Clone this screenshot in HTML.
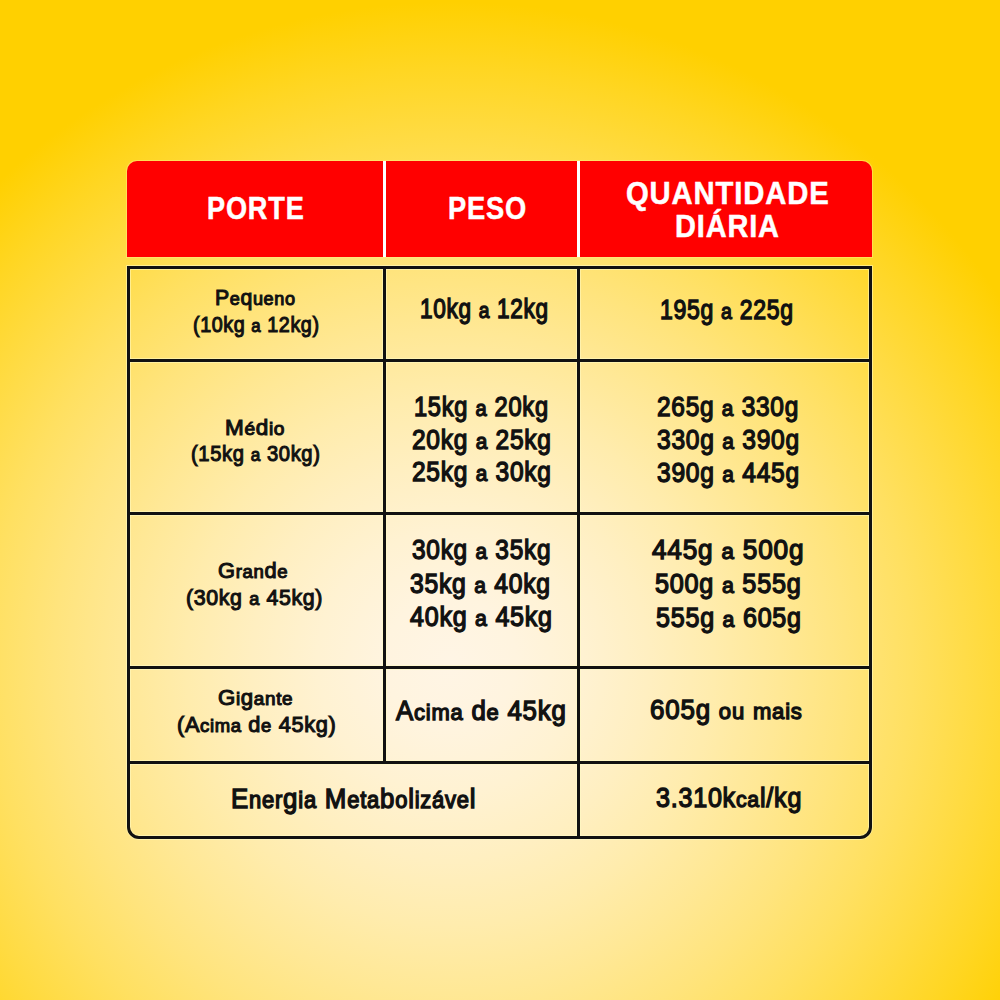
<!DOCTYPE html>
<html><head><meta charset="utf-8"><style>
html,body{margin:0;padding:0;}
body{width:1000px;height:1000px;position:relative;overflow:hidden;background:radial-gradient(circle 660px at 450px 662px, #fff5e5 0%, #fff4df 10%, #fff2d2 20%, #ffefc1 30%, #ffecad 40%, #ffe896 50%, #ffe47d 60%, #ffe061 70%, #ffdb42 80%, #ffd622 90%, #ffd000 100%);font-family:"Liberation Sans",sans-serif;}
.t{position:absolute;white-space:nowrap;line-height:1;font-weight:normal;transform-origin:0 0;-webkit-text-stroke:0.05em currentColor;}
.t.h{font-weight:bold;-webkit-text-stroke:0.5px currentColor;}
.t i{font-style:normal;}
.t i.l{font-size:0.85em;-webkit-text-stroke:0.0588em currentColor;}
.t i.a{font-size:1.0em;-webkit-text-stroke:0.0500em currentColor;}
.t i.d{font-size:1.0em;-webkit-text-stroke:0.0500em currentColor;}
.r{position:absolute;}
.hv{background:linear-gradient(90deg,rgba(255,251,196,.55) 0 1px,transparent 1px 4px,rgba(255,251,196,.55) 4px);}
.hh{background:linear-gradient(180deg,rgba(255,251,196,.55) 0 1px,transparent 1px 4px,rgba(255,251,196,.55) 4px);}
</style></head><body>
<div class="r" style="left:127px;top:161px;width:745px;height:96px;background:#ff0000;border-radius:10px 10px 0 0;box-shadow:0 0 0 1px rgba(255,236,140,.45);"></div>
<div class="r" style="left:383px;top:161px;width:3px;height:96px;background:#ffffff;"></div>
<div class="r" style="left:577px;top:161px;width:3px;height:96px;background:#ffffff;"></div>
<div class="r" style="left:126px;top:265px;width:747px;height:575px;box-sizing:border-box;border:1px solid rgba(255,251,196,.55);border-radius:0 0 13px 13px;"></div>
<div class="r" style="left:130px;top:269px;width:739px;height:567px;box-sizing:border-box;border:1px solid rgba(255,251,196,.55);border-radius:0 0 9px 9px;"></div>
<div class="r hv" style="left:382px;top:269px;width:5px;height:492px;"></div>
<div class="r hv" style="left:576px;top:269px;width:5px;height:567px;"></div>
<div class="r hh" style="left:130px;top:358px;width:739px;height:5px;"></div>
<div class="r hh" style="left:130px;top:511px;width:739px;height:5px;"></div>
<div class="r hh" style="left:130px;top:665px;width:739px;height:5px;"></div>
<div class="r hh" style="left:130px;top:760px;width:739px;height:5px;"></div>
<div class="r" style="left:127px;top:266px;width:745px;height:573px;box-sizing:border-box;border:3px solid #111;border-radius:0 0 12px 12px;"></div>
<div class="r" style="left:383px;top:269px;width:3px;height:492px;background:#111;"></div>
<div class="r" style="left:577px;top:269px;width:3px;height:567px;background:#111;"></div>
<div class="r" style="left:130px;top:359px;width:739px;height:3px;background:#111;"></div>
<div class="r" style="left:130px;top:512px;width:739px;height:3px;background:#111;"></div>
<div class="r" style="left:130px;top:666px;width:739px;height:3px;background:#111;"></div>
<div class="r" style="left:130px;top:761px;width:739px;height:3px;background:#111;"></div>

<div class="t h" style="left:207.22px;top:191.68px;font-size:32.27px;letter-spacing:0.03em;color:#ffffff;transform:scaleX(0.8411)">PORTE</div>
<div class="t h" style="left:448.30px;top:191.68px;font-size:32.27px;letter-spacing:0.03em;color:#ffffff;transform:scaleX(0.8449)">PESO</div>
<div class="t h" style="left:626.10px;top:176.75px;font-size:31.98px;letter-spacing:0.03em;color:#ffffff;transform:scaleX(0.9137)">QUANTIDADE</div>
<div class="t h" style="left:675.18px;top:209.93px;font-size:31.98px;letter-spacing:0.03em;color:#ffffff;transform:scaleX(0.9048)">DIÁRIA</div>
<div class="t" style="left:215.03px;top:286.72px;font-size:21.80px;letter-spacing:0.03em;color:#111111;transform:scaleX(0.9745)">P<i class="l">e</i><i class="d">q</i><i class="l">ueno</i></div>
<div class="t" style="left:193.05px;top:313.78px;font-size:21.80px;letter-spacing:0.03em;color:#111111;transform:scaleX(0.9039)">(10<i class="a">k</i><i class="d">g</i> <i class="l">a</i> 12<i class="a">k</i><i class="d">g</i>)</div>
<div class="t" style="left:224.89px;top:416.72px;font-size:21.80px;letter-spacing:0.03em;color:#111111;transform:scaleX(1.0324)">M<i class="l">é</i><i class="a">d</i><i class="l">io</i></div>
<div class="t" style="left:191.08px;top:442.60px;font-size:21.80px;letter-spacing:0.03em;color:#111111;transform:scaleX(0.9249)">(15<i class="a">k</i><i class="d">g</i> <i class="l">a</i> 30<i class="a">k</i><i class="d">g</i>)</div>
<div class="t" style="left:218.40px;top:560.47px;font-size:21.80px;letter-spacing:0.03em;color:#111111;transform:scaleX(1.0011)">G<i class="l">ran</i><i class="a">d</i><i class="l">e</i></div>
<div class="t" style="left:186.02px;top:586.84px;font-size:21.80px;letter-spacing:0.03em;color:#111111;transform:scaleX(0.9789)">(30<i class="a">k</i><i class="d">g</i> <i class="l">a</i> 45<i class="a">k</i><i class="d">g</i>)</div>
<div class="t" style="left:218.03px;top:687.22px;font-size:21.80px;letter-spacing:0.03em;color:#111111;transform:scaleX(1.0194)">G<i class="l">i</i><i class="d">g</i><i class="l">ante</i></div>
<div class="t" style="left:177.03px;top:713.60px;font-size:21.80px;letter-spacing:0.03em;color:#111111;transform:scaleX(0.9967)">(A<i class="l">cima</i> <i class="a">d</i><i class="l">e</i> 45<i class="a">k</i><i class="d">g</i>)</div>
<div class="t" style="left:420.19px;top:296.35px;font-size:26.89px;letter-spacing:0.03em;color:#111111;transform:scaleX(0.8414)">10<i class="a">k</i><i class="d">g</i> <i class="l">a</i> 12<i class="a">k</i><i class="d">g</i></div>
<div class="t" style="left:660.21px;top:296.91px;font-size:26.89px;letter-spacing:0.03em;color:#111111;transform:scaleX(0.8571)">195<i class="d">g</i> <i class="l">a</i> 225<i class="d">g</i></div>
<div class="t" style="left:413.68px;top:394.35px;font-size:26.89px;letter-spacing:0.03em;color:#111111;transform:scaleX(0.8801)">15<i class="a">k</i><i class="d">g</i> <i class="l">a</i> 20<i class="a">k</i><i class="d">g</i></div>
<div class="t" style="left:411.59px;top:426.63px;font-size:26.89px;letter-spacing:0.03em;color:#111111;transform:scaleX(0.9121)">20<i class="a">k</i><i class="d">g</i> <i class="l">a</i> 25<i class="a">k</i><i class="d">g</i></div>
<div class="t" style="left:411.59px;top:458.91px;font-size:26.89px;letter-spacing:0.03em;color:#111111;transform:scaleX(0.9121)">25<i class="a">k</i><i class="d">g</i> <i class="l">a</i> 30<i class="a">k</i><i class="d">g</i></div>
<div class="t" style="left:656.57px;top:394.35px;font-size:26.89px;letter-spacing:0.03em;color:#111111;transform:scaleX(0.9097)">265<i class="d">g</i> <i class="l">a</i> 330<i class="d">g</i></div>
<div class="t" style="left:657.04px;top:426.85px;font-size:26.89px;letter-spacing:0.03em;color:#111111;transform:scaleX(0.9154)">330<i class="d">g</i> <i class="l">a</i> 390<i class="d">g</i></div>
<div class="t" style="left:657.04px;top:459.67px;font-size:26.89px;letter-spacing:0.03em;color:#111111;transform:scaleX(0.9154)">390<i class="d">g</i> <i class="l">a</i> 445<i class="d">g</i></div>
<div class="t" style="left:412.05px;top:537.41px;font-size:26.89px;letter-spacing:0.03em;color:#111111;transform:scaleX(0.9095)">30<i class="a">k</i><i class="d">g</i> <i class="l">a</i> 35<i class="a">k</i><i class="d">g</i></div>
<div class="t" style="left:410.27px;top:570.85px;font-size:26.89px;letter-spacing:0.03em;color:#111111;transform:scaleX(0.9198)">35<i class="a">k</i><i class="d">g</i> <i class="l">a</i> 40<i class="a">k</i><i class="d">g</i></div>
<div class="t" style="left:409.51px;top:604.23px;font-size:26.89px;letter-spacing:0.03em;color:#111111;transform:scaleX(0.9322)">40<i class="a">k</i><i class="d">g</i> <i class="l">a</i> 45<i class="a">k</i><i class="d">g</i></div>
<div class="t" style="left:652.49px;top:536.79px;font-size:26.89px;letter-spacing:0.03em;color:#111111;transform:scaleX(0.9753)">445<i class="d">g</i> <i class="l">a</i> 500<i class="d">g</i></div>
<div class="t" style="left:655.01px;top:570.85px;font-size:26.89px;letter-spacing:0.03em;color:#111111;transform:scaleX(0.9382)">500<i class="d">g</i> <i class="l">a</i> 555<i class="d">g</i></div>
<div class="t" style="left:655.51px;top:604.91px;font-size:26.89px;letter-spacing:0.03em;color:#111111;transform:scaleX(0.9338)">555<i class="d">g</i> <i class="l">a</i> 605<i class="d">g</i></div>
<div class="t" style="left:396.25px;top:697.91px;font-size:26.89px;letter-spacing:0.03em;color:#111111;transform:scaleX(0.9607)">A<i class="l">cima</i> <i class="a">d</i><i class="l">e</i> 45<i class="a">k</i><i class="d">g</i></div>
<div class="t" style="left:650.03px;top:697.41px;font-size:26.89px;letter-spacing:0.03em;color:#111111;transform:scaleX(0.9656)">605<i class="d">g</i> <i class="l">ou</i> <i class="l">mais</i></div>
<div class="t" style="left:230.62px;top:785.43px;font-size:27.91px;letter-spacing:0.03em;color:#111111;transform:scaleX(0.9261)">E<i class="l">ner</i><i class="d">g</i><i class="l">ia</i> M<i class="l">eta</i><i class="a">b</i><i class="l">o</i><i class="a">l</i><i class="l">izáve</i><i class="a">l</i></div>
<div class="t" style="left:655.54px;top:785.29px;font-size:26.89px;letter-spacing:0.03em;color:#111111;transform:scaleX(0.9344)">3.310<i class="a">k</i><i class="l">ca</i><i class="a">l</i>/<i class="a">k</i><i class="d">g</i></div>
</body></html>
